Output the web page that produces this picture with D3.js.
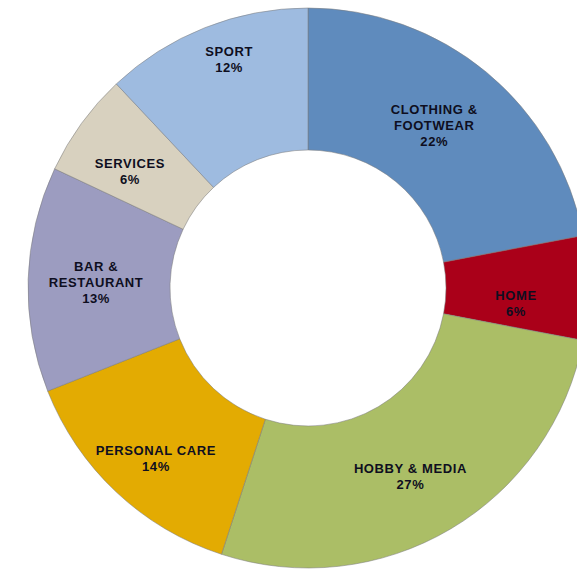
<!DOCTYPE html>
<html>
<head>
<meta charset="utf-8">
<script src="https://cdn.jsdelivr.net/npm/d3@7"></script>
<style>
  html, body { margin: 0; padding: 0; background: #ffffff; }
  svg { display: block; }
  text { font-family: "Liberation Sans", Arial, sans-serif; font-weight: bold; }
</style>
</head>
<body>
<svg id="chart" width="577" height="571"></svg>
<script>
// Spending categories, clockwise from 12 o'clock
const categories = ["CLOTHING & FOOTWEAR", "HOME", "HOBBY & MEDIA", "PERSONAL CARE", "BAR & RESTAURANT", "SERVICES", "SPORT"];
const labelLines = [["CLOTHING &", "FOOTWEAR"], ["HOME"], ["HOBBY & MEDIA"], ["PERSONAL CARE"], ["BAR &", "RESTAURANT"], ["SERVICES"], ["SPORT"]];
const shares = [22, 6, 27, 14, 13, 6, 12];
const colors = ["#5f8bbd", "#aa0019", "#abbe66", "#e3ab02", "#9c9cc0", "#d8d1bf", "#9ebbe0"];

// Label nudges (px) relative to each slice's centroid
const labelNudge = [[-7, -1], [-1, 15], [-4, 9], [-9, 18], [-3, 1], [-9, 6], [-2, -34]];

const svg = d3.select("#chart");
const cx = 308, cy = 288, outerR = 280, innerR = 138;

const pie = d3.pie().value(d => d.value).sort(null);
const arc = d3.arc().innerRadius(innerR).outerRadius(outerR);

const data = categories.map((c, i) => ({ name: c, value: shares[i], lines: labelLines[i], color: colors[i], nudge: labelNudge[i] }));
const arcs = pie(data);

const g = svg.append("g").attr("transform", `translate(${cx},${cy})`);

g.selectAll("path.slice")
  .data(arcs)
  .join("path")
  .attr("class", "slice")
  .attr("d", arc)
  .attr("fill", d => d.data.color)
  .attr("stroke", "#7d7d7d")
  .attr("stroke-opacity", 0.6)
  .attr("stroke-width", 0.9);

const lineH = 16;
g.selectAll("text.lbl")
  .data(arcs)
  .join("text")
  .attr("class", "lbl")
  .attr("text-anchor", "middle")
  .attr("font-size", 13)
  .attr("letter-spacing", 0.6)
  .attr("fill", "#0e0e20")
  .each(function (d) {
    const [x, y] = arc.centroid(d);
    const px = x + d.data.nudge[0];
    const py = y + d.data.nudge[1];
    const rows = d.data.lines.concat([d.data.value + "%"]);
    const top = py - (rows.length - 1) * lineH / 2 + 4.5;
    const t = d3.select(this);
    rows.forEach((r, i) => {
      t.append("tspan").attr("x", px).attr("y", top + i * lineH).text(r);
    });
  });
</script>
</body>
</html>
